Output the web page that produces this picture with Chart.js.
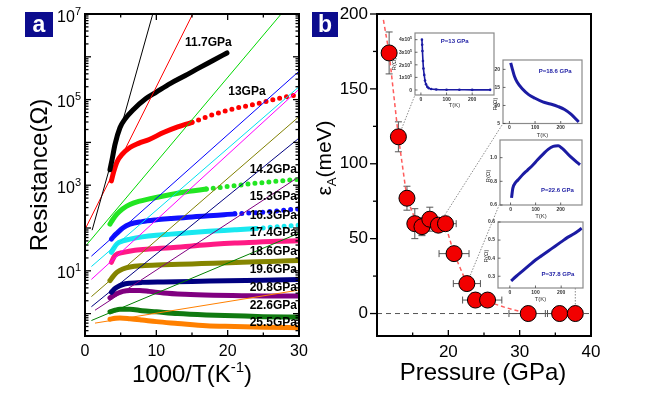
<!DOCTYPE html>
<html>
<head>
<meta charset="utf-8">
<title>Resistance vs 1000/T and activation energy vs pressure</title>
<script src="https://cdn.jsdelivr.net/npm/chart.js@4.4.1/dist/chart.umd.min.js"></script>
<style>
  html, body { margin: 0; padding: 0; background: #fff; }
  #fig { position: relative; width: 650px; height: 396px; overflow: hidden; background: #fff; }
  #fig canvas { position: absolute; left: 0; top: 0; }
</style>
</head>
<body>
<div id="fig">
  <canvas id="panelA" width="650" height="396"></canvas>
  <canvas id="panelB" width="650" height="396"></canvas>
  <canvas id="inset13" width="650" height="396"></canvas>
  <canvas id="inset186" width="650" height="396"></canvas>
  <canvas id="inset226" width="650" height="396"></canvas>
  <canvas id="inset378" width="650" height="396"></canvas>
</div>
<script>
// ---- panel a: resistance (ohm) against 1000/T (1/K), one pair per pressure ----
const pressureLabels = ["11.7GPa", "13GPa", "14.2GPa", "15.3GPa", "16.3GPa", "17.4GPa",
                        "18.6GPa", "19.6GPa", "20.8GPa", "22.6GPa", "25.5GPa"];

const invT_117 = [3.5, 3.8, 4.2, 4.9, 5.6, 6.8, 8.5, 10, 12, 14, 16, 18, 19.9];
const res_117  = [2.3e3, 4.0e3, 8.9e3, 2.2e4, 3.5e4, 5.9e4, 1.05e5, 1.5e5, 2.4e5, 3.6e5, 5.5e5, 8.3e5, 1.23e6];
const invT_130 = [3.7, 4.0, 4.5, 5.2, 6.3, 7.5, 9, 11, 13, 15, 18, 21, 24, 27, 30];
const res_130  = [1.26e3, 2.0e3, 3.55e3, 5.25e3, 7.6e3, 9.5e3, 1.17e4, 1.7e4, 2.3e4, 2.95e4, 4.5e4, 6.2e4, 7.9e4, 1.05e5, 1.32e5];
const invT_142 = [3.5, 3.9, 4.5, 5.3, 6.3, 7.5, 9, 11, 14, 17, 20, 23, 26, 30];
const res_142  = [123, 158, 214, 282, 355, 417, 479, 562, 692, 813, 933, 1070, 1200, 1380];
const invT_153 = [3.7, 4.0, 4.5, 5.3, 6.3, 8, 10, 12, 15, 18, 21, 24, 27, 30];
const res_153  = [55, 63, 76, 100, 123, 141, 155, 166, 182, 195, 214, 229, 251, 282];
const invT_163 = [3.7, 4.0, 4.5, 5.3, 6.3, 8, 10, 12, 15, 18, 21, 24, 27, 30];
const res_163  = [27, 33, 43, 50, 55, 62, 68, 72, 79, 85, 91, 98, 107, 117];
const invT_174 = [3.7, 4.2, 5.4, 7, 9, 12, 15, 18, 21, 24, 27, 30];
const res_174  = [15.8, 22.9, 26.9, 30.2, 32.4, 34.7, 38, 41.7, 44.7, 46.8, 49, 50.1];
const invT_186 = [3.5, 4.0, 4.5, 5.3, 6.3, 8, 11, 15, 18, 22, 26, 30];
const res_186  = [5.9, 7.6, 9.3, 11.0, 12.3, 13.2, 13.8, 14.5, 15.1, 15.8, 16.6, 17.4];
const invT_196 = [3.7, 4.1, 4.5, 5.3, 6.3, 8, 11, 15, 20, 25, 30];
const res_196  = [3.16, 3.72, 4.17, 4.79, 5.13, 5.37, 5.50, 5.62, 5.89, 6.03, 6.31];
const invT_208 = [3.5, 4.0, 4.5, 5.3, 6.3, 7.7, 9, 11, 14, 18, 22, 26, 30];
const res_208  = [2.34, 2.69, 2.95, 3.31, 3.47, 3.47, 3.31, 3.02, 2.82, 2.69, 2.63, 2.57, 2.57];
const invT_226 = [3.5, 4.2, 4.9, 6.3, 8, 10, 13, 17, 21, 25, 30];
const res_226  = [1.10, 1.20, 1.26, 1.26, 1.17, 1.10, 1.00, 0.93, 0.89, 0.85, 0.83];
const invT_255 = [3.5, 4.2, 4.9, 6.3, 8, 10, 13, 17, 21, 25, 30];
const res_255  = [0.74, 0.78, 0.79, 0.76, 0.71, 0.65, 0.59, 0.52, 0.50, 0.48, 0.47];

// straight activation fits, one entry per pressure (start and end points)
const fitStartX = [1.0, 0.1, 0.2, 0.9, 0.9, 0.9, 0.9, 0.9, 1.4, 0.9, 1.4];
const fitStartR = [89, 100, 40, 22, 12.6, 6.3, 2.5, 1.45, 1.2, 0.69, 0.60];
const fitEndX   = [9.5, 15.1, 27.5, 30, 30, 30, 30, 30, 30, 30, 30];
const fitEndR   = [1e7, 1e7, 1e7, 4.6e5, 2.0e5, 1.74e5, 4.0e4, 1.26e4, 1.58e3, 76, 3.55];

// where each pressure label sits (1000/T, ohm)
const labelInvT = [17.3, 22.7, 26.4, 26.4, 26.4, 26.4, 26.4, 26.4, 26.4, 26.4, 26.4];
const labelRes  = [2.1e6, 1.5e5, 2.3e3, 550, 190, 76, 27.5, 10.7, 4.0, 1.55, 0.62];

const xTicksA = [0, 10, 20, 30];
const yLabelExpA = [1, 3, 5, 7];

// ---- panel b: activation energy (meV) against pressure (GPa) ----
const pressure    = [11.7, 13, 14.2, 15.3, 16.3, 17.4, 18.6, 19.6, 20.8, 22.6, 23.8, 25.5, 31.2, 35.6, 37.8];
const energy      = [174, 118, 77, 60, 58, 63, 59, 60, 40, 20, 9, 9, 0, 0, 0];
const energyErr   = [14, 10, 8, 10, 6, 8, 4, 0, 0, 0, 0, 0, 0, 0, 0];
const pressureErr = [0, 0, 0, 0, 0, 0, 1.2, 1.5, 2.1, 1.9, 1.8, 2.0, 2.7, 2.0, 1.0];
const guideP = [10.9, 11.7, 13, 14.2, 15.5, 17, 19.6, 20.8, 22.6, 23.8, 25.5, 28, 31.2];
const guideE = [196, 174, 118, 77, 61, 58, 59, 40, 20, 9, 8, 4, 0];
const xTicksB = [20, 30, 40];
const yTicksB = [0, 50, 100, 150, 200];

// ---- insets: R(T) at four pressures ----
const in13T  = [4, 5, 6, 8, 10, 13, 16, 20, 25, 30, 40, 60, 100, 150, 200, 270];
const in13R  = [4.0e5, 3.6e5, 3.1e5, 2.3e5, 1.7e5, 1.2e5, 0.75e5, 0.45e5, 0.25e5, 0.15e5, 0.08e5, 0.04e5, 0.02e5, 0.015e5, 0.01e5, 0.01e5];
const in186T = [5, 10, 20, 30, 50, 75, 100, 130, 160, 190, 215, 240, 270];
const in186R = [21.8, 20.5, 18, 16.5, 14.6, 13, 12, 11, 10.4, 9.7, 8.9, 7.6, 5.4];
const in226T = [4, 9, 20, 29, 50, 68, 90, 107, 130, 150, 170, 190, 205, 238, 277];
const in226R = [0.66, 0.74, 0.79, 0.81, 0.86, 0.895, 0.94, 0.98, 1.03, 1.07, 1.095, 1.10, 1.08, 1.01, 0.94];
const in378T = [5, 25, 50, 75, 100, 125, 150, 175, 200, 225, 250, 280];
const in378R = [0.275, 0.30, 0.33, 0.36, 0.39, 0.415, 0.44, 0.465, 0.49, 0.515, 0.535, 0.565];

const FONT = '"Liberation Sans", Arial, Helvetica, sans-serif';
const NAVY = "#1b1ba3";

function seg(ctx, x1, y1, x2, y2) {
    ctx.beginPath();
    ctx.moveTo(x1, y1);
    ctx.lineTo(x2, y2);
    ctx.stroke();
}

// draws text made of pieces [text, size, rise, weight] on one baseline
function richText(ctx, parts, x, y, align) {
    let total = 0;
    const widths = parts.map((p) => {
        ctx.font = `${p[3] || "normal"} ${p[1]}px ${FONT}`;
        const w = ctx.measureText(p[0]).width;
        total += w;
        return w;
    });
    let cx = align === "right" ? x - total : align === "center" ? x - total / 2 : x;
    ctx.textAlign = "left";
    ctx.textBaseline = "alphabetic";
    parts.forEach((p, i) => {
        ctx.font = `${p[3] || "normal"} ${p[1]}px ${FONT}`;
        ctx.fillText(p[0], cx, y - (p[2] || 0));
        cx += widths[i];
    });
}

function panelTag(ctx, letter, x, y, w, h) {
    ctx.fillStyle = "#0c0c8e";
    ctx.fillRect(x, y, w, h);
    ctx.fillStyle = "#fff";
    ctx.font = `bold 23px ${FONT}`;
    ctx.textAlign = "center";
    ctx.textBaseline = "middle";
    ctx.fillText(letter, x + w / 2, y + h / 2 + 1);
}

const pairsA = [
    [invT_117, res_117], [invT_130, res_130], [invT_142, res_142], [invT_153, res_153],
    [invT_163, res_163], [invT_174, res_174], [invT_186, res_186], [invT_196, res_196],
    [invT_208, res_208], [invT_226, res_226], [invT_255, res_255]
];
const curveColors = ["#000000", "#ff0000", "#22e622", "#1010ff", "#19e8f0", "#ff1a85",
                     "#858500", "#000080", "#800080", "#117a11", "#ff8000"];
const fitColors   = ["#000000", "#ff0000", "#00d800", "#0000ff", "#00e0f0", "#ff00ff",
                     "#808000", "#000080", "#800080", "#008000", "#ff8000"];
const dotsFrom    = [null, 15, 17, 20, 22, null, null, null, null, null, null];

const fitSets = pressureLabels.map((name, i) => ({
    data: [{ x: fitStartX[i], y: fitStartR[i] }, { x: fitEndX[i], y: fitEndR[i] }],
    borderColor: fitColors[i],
    borderWidth: 1,
    pointRadius: 0,
    order: 0
}));

const curveSets = pressureLabels.map((name, i) => ({
    data: pairsA[i][0].map((v, k) => ({ x: v, y: pairsA[i][1][k] })),
    borderColor: curveColors[i],
    borderWidth: 5,
    borderCapStyle: "round",
    pointRadius: 0,
    cubicInterpolationMode: "monotone",
    order: 1,
    segment: {
        borderDash: (c) => (dotsFrom[i] !== null && c.p0.parsed.x >= dotsFrom[i] ? [0, 7] : undefined)
    }
}));

const axesA = {
    id: "axesA",
    afterDraw(chart) {
        const { ctx, chartArea: a, scales: { x, y } } = chart;
        ctx.save();
        ctx.strokeStyle = "#000";
        ctx.fillStyle = "#000";
        ctx.lineWidth = 1.3;
        for (let v = 0; v <= 30; v += 5) {
            const px = x.getPixelForValue(v);
            const len = v % 10 === 0 ? 6 : 3.5;
            seg(ctx, px, a.bottom, px, a.bottom - len);
            seg(ctx, px, a.top, px, a.top + len);
        }
        for (let e = -1; e <= 7; e++) {
            for (let m = 1; m <= 9; m++) {
                const v = m * Math.pow(10, e);
                if (v < y.min || v > y.max * 1.0001) continue;
                const py = y.getPixelForValue(v);
                const len = m === 1 ? 6 : 3.5;
                seg(ctx, a.left, py, a.left + len, py);
                seg(ctx, a.right, py, a.right - len, py);
            }
        }
        ctx.lineWidth = 2;
        ctx.strokeRect(a.left, a.top, a.right - a.left, a.bottom - a.top);

        ctx.font = `16px ${FONT}`;
        ctx.textAlign = "center";
        ctx.textBaseline = "middle";
        xTicksA.forEach((v) => ctx.fillText(String(v), x.getPixelForValue(v), a.bottom + 16));
        yLabelExpA.forEach((e) => {
            const py = y.getPixelForValue(Math.pow(10, e));
            richText(ctx, [["10", 16], [String(e), 11, 7]], a.left - 4, py + 7.5, "right");
        });

        ctx.font = `bold 12px ${FONT}`;
        ctx.textAlign = "center";
        ctx.textBaseline = "middle";
        pressureLabels.forEach((t, i) => {
            ctx.fillText(t, x.getPixelForValue(labelInvT[i]), y.getPixelForValue(labelRes[i]));
        });

        richText(ctx, [["1000/T(K", 24], ["-1", 15, 10], [")", 24]], 192, 382, "center");
        ctx.save();
        ctx.translate(38, 175);
        ctx.rotate(-Math.PI / 2);
        richText(ctx, [["Resistance(\u03A9)", 24]], 0, 8.5, "center");
        ctx.restore();

        panelTag(ctx, "a", 25, 12, 28, 25);
        ctx.restore();
    }
};

new Chart(document.getElementById("panelA"), {
    type: "line",
    data: { datasets: [...fitSets, ...curveSets] },
    options: {
        responsive: false,
        animation: false,
        events: [],
        layout: { padding: { left: 85, top: 14, right: 351, bottom: 60 } },
        plugins: { legend: { display: false }, tooltip: { enabled: false } },
        scales: {
            x: { type: "linear", min: 0, max: 30, display: false },
            y: { type: "logarithmic", min: 0.316, max: 1e7, display: false }
        }
    },
    plugins: [axesA]
});

// ---- insets ----
const insets = {
    inset13:  { box: [415, 33, 494, 95],   T: in13T,  R: in13R,  x: [-23, 285], y: [-0.4e5, 4.53e5],
                ticks: [0, 1e5, 2e5, 3e5, 4e5], tag: "P=13 GPa", tagAt: [132, 3.73e5], yTitleDx: 19, yTitleY: 64, dots: true },
    inset186: { box: [503, 60, 582, 123.5], T: in186T, R: in186R, x: [-25, 283], y: [5, 22.6],
                ticks: [5, 10, 15, 20], tag: "P=18.6 GPa", tagAt: [178, 19.4], yTitleDx: 8, yTitleY: 104 },
    inset226: { box: [500, 140, 582, 205], T: in226T, R: in226R, x: [-42, 285], y: [0.6, 1.149],
                ticks: [0.6, 0.8, 1.0], tag: "P=22.6 GPa", tagAt: [187, 0.72], yTitleDx: 12, yTitleY: 176, dec: 1 },
    inset378: { box: [498, 222, 583, 288], T: in378T, R: in378R, x: [-46, 285], y: [0.235, 0.6],
                ticks: [0.3, 0.4, 0.5, 0.6], tag: "P=37.8 GPa", tagAt: [187, 0.31], yTitleDx: 12, yTitleY: 256, dec: 1 }
};

function insetFrame(cfg) {
    return {
        id: "insetFrame",
        beforeDatasetsDraw(chart) {
            const { ctx, chartArea: a } = chart;
            ctx.save();
            ctx.fillStyle = "#fff";
            ctx.fillRect(a.left, a.top, a.right - a.left, a.bottom - a.top);
            ctx.restore();
        },
        afterDraw(chart) {
            const { ctx, chartArea: a, scales: { x, y } } = chart;
            ctx.save();
            ctx.strokeStyle = "#8a8a8a";
            ctx.lineWidth = 1.2;
            ctx.strokeRect(a.left, a.top, a.right - a.left, a.bottom - a.top);
            ctx.strokeStyle = "#444";
            ctx.lineWidth = 0.8;
            ctx.fillStyle = "#333";
            ctx.font = `bold 5px ${FONT}`;
            ctx.textAlign = "center";
            ctx.textBaseline = "middle";
            [0, 100, 200].forEach((v) => {
                const px = x.getPixelForValue(v);
                seg(ctx, px, a.bottom, px, a.bottom - 2.5);
                ctx.fillText(String(v), px, a.bottom + 4.5);
            });
            cfg.ticks.forEach((v) => {
                const py = y.getPixelForValue(v);
                seg(ctx, a.left, py, a.left + 2.5, py);
                if (cfg.dots) {
                    if (v === 0) {
                        richText(ctx, [["0", 5, 0, "bold"]], a.left - 3, py + 1.8, "right");
                    } else {
                        richText(ctx, [[`${v / 1e5}x10`, 5, 0, "bold"], ["5", 3.5, 2.2, "bold"]], a.left - 3, py + 1.8, "right");
                    }
                } else {
                    ctx.textAlign = "right";
                    ctx.font = `bold 5px ${FONT}`;
                    ctx.fillText(cfg.dec ? v.toFixed(cfg.dec) : String(v), a.left - 3, py);
                }
            });
            ctx.font = `6px ${FONT}`;
            ctx.textAlign = "center";
            ctx.fillText("T(K)", (a.left + a.right) / 2, a.bottom + 11.5);
            ctx.save();
            ctx.translate(a.left - cfg.yTitleDx, cfg.yTitleY);
            ctx.rotate(-Math.PI / 2);
            ctx.fillText("R(\u03A9)", 0, 0);
            ctx.restore();
            ctx.fillStyle = NAVY;
            ctx.font = `bold 6px ${FONT}`;
            ctx.fillText(cfg.tag, x.getPixelForValue(cfg.tagAt[0]), y.getPixelForValue(cfg.tagAt[1]));
            ctx.restore();
        }
    };
}

Object.keys(insets).forEach((id) => {
    const cfg = insets[id];
    const [l, t, r, b] = cfg.box;
    new Chart(document.getElementById(id), {
        type: "line",
        data: {
            datasets: [{
                data: cfg.T.map((v, k) => ({ x: v, y: cfg.R[k] })),
                borderColor: NAVY,
                backgroundColor: NAVY,
                borderWidth: cfg.dots ? 1.6 : 3,
                pointRadius: cfg.dots ? 1.3 : 0,
                pointBorderWidth: 0,
                cubicInterpolationMode: "monotone"
            }]
        },
        options: {
            responsive: false,
            animation: false,
            events: [],
            layout: { padding: { left: l, top: t, right: 650 - r, bottom: 396 - b } },
            plugins: { legend: { display: false }, tooltip: { enabled: false } },
            scales: {
                x: { type: "linear", min: cfg.x[0], max: cfg.x[1], display: false },
                y: { type: "linear", min: cfg.y[0], max: cfg.y[1], display: false }
            }
        },
        plugins: [insetFrame(cfg)]
    });
});

// ---- panel b ----
const linkTargets = [
    { p: 13, at: [415, 95] },
    { p: 18.6, at: [503, 123.5] },
    { p: 22.6, at: [500, 203] },
    { p: 37.8, at: null }
];

const axesB = {
    id: "axesB",
    beforeDatasetsDraw(chart) {
        const { ctx, chartArea: a, scales: { x, y } } = chart;
        ctx.save();
        // zero reference line
        ctx.strokeStyle = "#555";
        ctx.lineWidth = 1;
        ctx.setLineDash([5, 4]);
        const y0 = y.getPixelForValue(0);
        seg(ctx, a.left, y0, a.right, y0);
        // dotted links to insets
        ctx.strokeStyle = "#8a8a8a";
        ctx.setLineDash([1.5, 1.5]);
        linkTargets.forEach((lk) => {
            const i = pressure.indexOf(lk.p);
            const px = x.getPixelForValue(pressure[i]);
            const py = y.getPixelForValue(energy[i]);
            if (lk.at) seg(ctx, px, py, lk.at[0], lk.at[1]);
            else seg(ctx, px, py, px, 288);
        });
        ctx.setLineDash([]);
        // error bars
        ctx.strokeStyle = "#555";
        ctx.lineWidth = 1;
        pressure.forEach((p, i) => {
            const px = x.getPixelForValue(p);
            const py = y.getPixelForValue(energy[i]);
            if (energyErr[i]) {
                const t = y.getPixelForValue(energy[i] + energyErr[i]);
                const b = y.getPixelForValue(energy[i] - energyErr[i]);
                seg(ctx, px, t, px, b);
                seg(ctx, px - 3.5, t, px + 3.5, t);
                seg(ctx, px - 3.5, b, px + 3.5, b);
            }
            if (pressureErr[i]) {
                const l = x.getPixelForValue(p - pressureErr[i]);
                const r = x.getPixelForValue(p + pressureErr[i]);
                seg(ctx, l, py, r, py);
                seg(ctx, l, py - 3.5, l, py + 3.5);
                seg(ctx, r, py - 3.5, r, py + 3.5);
            }
        });
        ctx.restore();
    },
    afterDraw(chart) {
        const { ctx, chartArea: a, scales: { x, y } } = chart;
        ctx.save();
        ctx.strokeStyle = "#000";
        ctx.fillStyle = "#000";
        ctx.lineWidth = 1.3;
        for (let v = 0; v <= 200; v += 25) {
            const py = y.getPixelForValue(v);
            const len = v % 50 === 0 ? 7 : 4;
            seg(ctx, a.left - len, py, a.left, py);
        }
        for (let v = 15; v <= 35; v += 5) {
            const px = x.getPixelForValue(v);
            const len = v % 10 === 0 ? 6 : 3.5;
            seg(ctx, px, a.bottom, px, a.bottom - len);
        }
        ctx.lineWidth = 2;
        ctx.strokeRect(a.left, a.top, a.right - a.left, a.bottom - a.top);

        ctx.font = `17px ${FONT}`;
        ctx.textAlign = "right";
        ctx.textBaseline = "middle";
        yTicksB.forEach((v) => ctx.fillText(String(v), a.left - 9, y.getPixelForValue(v)));
        ctx.textAlign = "center";
        xTicksB.forEach((v) => ctx.fillText(String(v), x.getPixelForValue(v), a.bottom + 16));

        richText(ctx, [["Pressure (GPa)", 24]], 483, 380, "center");
        ctx.save();
        ctx.translate(323, 158);
        ctx.rotate(-Math.PI / 2);
        richText(ctx, [["\u03B5", 21], ["A", 13, -5], ["(meV)", 21]], 0, 7.5, "center");
        ctx.restore();

        panelTag(ctx, "b", 312, 12, 26, 25);
        ctx.restore();
    }
};

new Chart(document.getElementById("panelB"), {
    type: "scatter",
    data: {
        datasets: [
            {
                data: pressure.map((p, i) => ({ x: p, y: energy[i] })),
                pointRadius: 8,
                pointBackgroundColor: "#f20000",
                pointBorderColor: "#000",
                pointBorderWidth: 1,
                showLine: false,
                order: 0
            },
            {
                data: guideP.map((p, i) => ({ x: p, y: guideE[i] })),
                showLine: true,
                borderColor: "#ff5c5c",
                borderWidth: 1.5,
                borderDash: [4, 3],
                pointRadius: 0,
                order: 1
            }
        ]
    },
    options: {
        responsive: false,
        animation: false,
        events: [],
        layout: { padding: { left: 377, top: 14, right: 59, bottom: 60 } },
        plugins: { legend: { display: false }, tooltip: { enabled: false } },
        scales: {
            x: { type: "linear", min: 10, max: 40, display: false },
            y: { type: "linear", min: -15, max: 200, display: false }
        }
    },
    plugins: [axesB]
});
</script>
</body>
</html>
